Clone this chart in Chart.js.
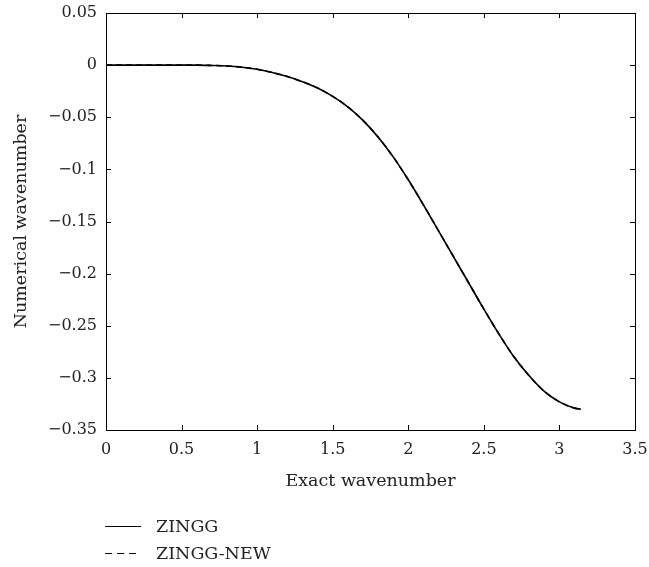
<!DOCTYPE html>
<html>
<head>
<meta charset="utf-8">
<script src="https://cdn.jsdelivr.net/npm/chart.js@4.4.1/dist/chart.umd.min.js"></script>
<style>
    html, body { margin: 0; padding: 0; background: #ffffff; }
    #wrap { width: 649px; height: 567px; }
</style>
</head>
<body>
<div id="wrap"><canvas id="waveChart" width="649" height="567"></canvas></div>
<script>
// Exact wavenumber (x) and numerical wavenumber error
const exactK = [0, 0.1, 0.2, 0.3, 0.4, 0.5, 0.6, 0.7, 0.8, 0.9, 1.0, 1.1, 1.2, 1.3, 1.4, 1.5,
    1.6, 1.7, 1.8, 1.9, 2.0, 2.1, 2.2, 2.3, 2.4, 2.5, 2.6, 2.7, 2.8, 2.9, 3.0, 3.1, 3.1416];
const zinggVals = [0, 0, 0, 0, 0, 0, 0, -0.0003, -0.0008, -0.002, -0.004, -0.007, -0.011, -0.016, -0.022, -0.030,
    -0.040, -0.053, -0.069, -0.088, -0.110, -0.134, -0.159, -0.184, -0.209, -0.234, -0.258, -0.280, -0.298, -0.313, -0.323, -0.329, -0.330];
const zinggNewVals = [0, 0, 0, 0, 0, 0, 0, -0.0003, -0.0008, -0.002, -0.004, -0.007, -0.011, -0.016, -0.022, -0.030,
    -0.040, -0.053, -0.069, -0.088, -0.110, -0.134, -0.159, -0.184, -0.209, -0.234, -0.258, -0.280, -0.298, -0.313, -0.323, -0.329, -0.330];

const xTicks = [0, 0.5, 1, 1.5, 2, 2.5, 3, 3.5];
const yTicks = [0.05, 0, -0.05, -0.1, -0.15, -0.2, -0.25, -0.3, -0.35];

const seriesNames = ['ZINGG', 'ZINGG-NEW'];

const fontFamily = '"DejaVu Serif", "Liberation Serif", serif';
const textColor = '#222222';

function toPoints(xs, ys) {
    return xs.map((x, i) => ({ x: x, y: ys[i] }));
}

function fmt(v) {
    return String(parseFloat(v.toFixed(2))).replace('-', '\u2212');
}

// box around the plot with inward ticks on all four sides
const frameTicks = {
    id: 'frameTicks',
    afterDraw(chart) {
        const { ctx, chartArea: a, scales } = chart;
        const len = 5;
        ctx.save();
        ctx.strokeStyle = '#000';
        ctx.lineWidth = 1;
        ctx.strokeRect(a.left + 0.5, a.top + 0.5, a.right - a.left, a.bottom - a.top);
        ctx.beginPath();
        xTicks.forEach(v => {
            const px = Math.round(scales.x.getPixelForValue(v)) + 0.5;
            ctx.moveTo(px, a.bottom); ctx.lineTo(px, a.bottom - len);
            ctx.moveTo(px, a.top); ctx.lineTo(px, a.top + len);
        });
        yTicks.forEach(v => {
            const py = Math.round(scales.y.getPixelForValue(v)) + 0.5;
            ctx.moveTo(a.left, py); ctx.lineTo(a.left + len, py);
            ctx.moveTo(a.right, py); ctx.lineTo(a.right - len, py);
        });
        ctx.stroke();
        ctx.restore();
    }
};

// stacked legend under the x axis title
const stackedLegend = {
    id: 'stackedLegend',
    afterDraw(chart) {
        const { ctx } = chart;
        ctx.save();
        ctx.font = '17.5px ' + fontFamily;
        ctx.fillStyle = textColor;
        ctx.textBaseline = 'middle';
        chart.data.datasets.forEach((ds, i) => {
            const y = 526 + i * 27;
            ctx.strokeStyle = '#000';
            ctx.lineWidth = 1;
            ctx.setLineDash(ds.borderDash ? [7, 5] : []);
            ctx.beginPath();
            ctx.moveTo(105, y + 0.5);
            ctx.lineTo(141, y + 0.5);
            ctx.stroke();
            ctx.setLineDash([]);
            ctx.fillText(ds.label, 156, y + 1);
        });
        ctx.restore();
    }
};

const ctx = document.getElementById('waveChart').getContext('2d');
new Chart(ctx, {
    type: 'line',
    data: {
        datasets: [{
            label: seriesNames[0],
            data: toPoints(exactK, zinggVals),
            borderColor: '#000000',
            borderWidth: 1.6,
            pointRadius: 0,
            cubicInterpolationMode: 'monotone',
            fill: false
        }, {
            label: seriesNames[1],
            data: toPoints(exactK, zinggNewVals),
            borderColor: '#000000',
            borderWidth: 1.6,
            borderDash: [6, 4],
            pointRadius: 0,
            cubicInterpolationMode: 'monotone',
            fill: false
        }]
    },
    options: {
        responsive: false,
        animation: false,
        layout: { padding: { top: 13, right: 14, bottom: 75, left: 0 } },
        scales: {
            x: {
                type: 'linear',
                min: 0,
                max: 3.5,
                afterBuildTicks: (scale) => { scale.ticks = xTicks.map(v => ({ value: v })); },
                afterFit: (scale) => {
                    scale.height = 62;
                    scale.paddingLeft = 0;
                    scale.paddingRight = 0;
                },
                ticks: {
                    color: textColor,
                    padding: 10,
                    maxRotation: 0,
                    font: { family: fontFamily, size: 16 },
                    callback: (v) => fmt(v)
                },
                grid: { display: false, drawTicks: false },
                border: { display: false },
                title: {
                    display: true,
                    text: 'Exact wavenumber',
                    color: textColor,
                    font: { family: fontFamily, size: 17.5 },
                    padding: 0
                }
            },
            y: {
                type: 'linear',
                min: -0.35,
                max: 0.05,
                afterBuildTicks: (scale) => { scale.ticks = yTicks.map(v => ({ value: v })); },
                afterFit: (scale) => {
                    scale.width = 106;
                    scale.paddingTop = 0;
                    scale.paddingBottom = 0;
                },
                ticks: {
                    color: textColor,
                    padding: 9,
                    font: { family: fontFamily, size: 16 },
                    callback: (v) => fmt(v)
                },
                grid: { display: false, drawTicks: false },
                border: { display: false },
                title: {
                    display: true,
                    text: 'Numerical wavenumber',
                    color: textColor,
                    font: { family: fontFamily, size: 17.5 },
                    padding: { top: 11, bottom: 0 }
                }
            }
        },
        plugins: {
            legend: { display: false },
            tooltip: { enabled: false }
        }
    },
    plugins: [frameTicks, stackedLegend]
});
</script>
</body>
</html>
